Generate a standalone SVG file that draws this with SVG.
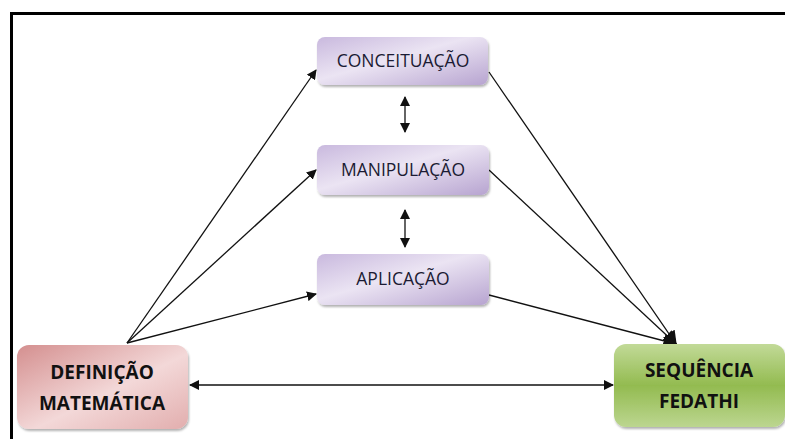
<svg xmlns="http://www.w3.org/2000/svg" width="785" height="439" viewBox="0 0 785 439">
<style>
.lbl{font-family:"Open Sans","Liberation Sans",sans-serif;font-size:17.5px;fill:#1b1b33;text-anchor:middle}
.bold{font-family:"Open Sans","Liberation Sans",sans-serif;font-size:19px;font-weight:bold;fill:#111;text-anchor:middle}
.ln{stroke:#111;stroke-width:1.3;fill:none}
</style>
<defs>
<linearGradient id="gp" x1="0" y1="0" x2="1" y2="1">
<stop offset="0" stop-color="#c9b9de"/><stop offset="0.45" stop-color="#ebe4f3"/><stop offset="1" stop-color="#b7a4d0"/>
</linearGradient>
<linearGradient id="gr" x1="0" y1="0" x2="1" y2="1">
<stop offset="0" stop-color="#d48f8f"/><stop offset="0.55" stop-color="#f3d8d8"/><stop offset="1" stop-color="#e2aeae"/>
</linearGradient>
<linearGradient id="gg" x1="0" y1="0" x2="0" y2="1">
<stop offset="0" stop-color="#c2da98"/><stop offset="0.5" stop-color="#93bb50"/><stop offset="1" stop-color="#bcd690"/>
</linearGradient>
<marker id="ah" viewBox="0 0 10 10" refX="9" refY="5" markerWidth="10" markerHeight="10" markerUnits="userSpaceOnUse" orient="auto-start-reverse">
<path d="M0,0 L10,5 L0,10 z" fill="#111"/>
</marker>
<marker id="ahb" viewBox="0 0 10 10" refX="9" refY="5" markerWidth="14" markerHeight="14" markerUnits="userSpaceOnUse" orient="auto">
<path d="M0,0 L10,5 L0,10 z" fill="#111"/>
</marker>
<filter id="sh" x="-10%" y="-10%" width="120%" height="130%">
<feDropShadow dx="1" dy="2" stdDeviation="1.2" flood-color="#000" flood-opacity="0.3"/>
</filter>
</defs>
<rect width="785" height="439" fill="#fff"/>
<path d="M11.5,439 V13.5 H785" stroke="#000" stroke-width="3" fill="none"/>
<g id="connectors">
<line class="ln" x1="127" y1="343" x2="316" y2="70" marker-end="url(#ah)"/>
<line class="ln" x1="127" y1="343" x2="316" y2="170" marker-end="url(#ah)"/>
<line class="ln" x1="127" y1="343" x2="316" y2="294" marker-end="url(#ah)"/>
<line class="ln" x1="489" y1="72" x2="676" y2="344" marker-end="url(#ahb)"/>
<line class="ln" x1="489" y1="170" x2="676" y2="344" marker-end="url(#ahb)"/>
<line class="ln" x1="489" y1="295" x2="676" y2="344" marker-end="url(#ahb)"/>
<line class="ln" x1="190" y1="385" x2="613" y2="385" marker-start="url(#ah)" marker-end="url(#ah)"/>
<line class="ln" x1="405" y1="97" x2="405" y2="132" marker-start="url(#ah)" marker-end="url(#ah)"/>
<line class="ln" x1="405" y1="210" x2="405" y2="247" marker-start="url(#ah)" marker-end="url(#ah)"/>
</g>
<g id="conceituacao">
<rect x="317" y="37" width="171" height="48" rx="8" fill="url(#gp)" filter="url(#sh)"/>
<text class="lbl" x="403" y="67">CONCEITUAÇÃO</text>
</g>
<g id="manipulacao">
<rect x="317" y="145" width="172" height="50" rx="8" fill="url(#gp)" filter="url(#sh)"/>
<text class="lbl" x="403" y="176">MANIPULAÇÃO</text>
</g>
<g id="aplicacao">
<rect x="317" y="254" width="172" height="51" rx="8" fill="url(#gp)" filter="url(#sh)"/>
<text class="lbl" x="403" y="285">APLICAÇÃO</text>
</g>
<g id="definicao">
<rect x="17" y="345" width="171" height="84" rx="12" fill="url(#gr)" filter="url(#sh)"/>
<text class="bold" x="102" y="379">DEFINIÇÃO</text>
<text class="bold" x="102" y="410">MATEMÁTICA</text>
</g>
<g id="sequencia">
<rect x="614" y="344" width="171" height="83" rx="12" fill="url(#gg)" filter="url(#sh)"/>
<text class="bold" x="699" y="377">SEQUÊNCIA</text>
<text class="bold" x="699" y="408">FEDATHI</text>
</g>
</svg>
